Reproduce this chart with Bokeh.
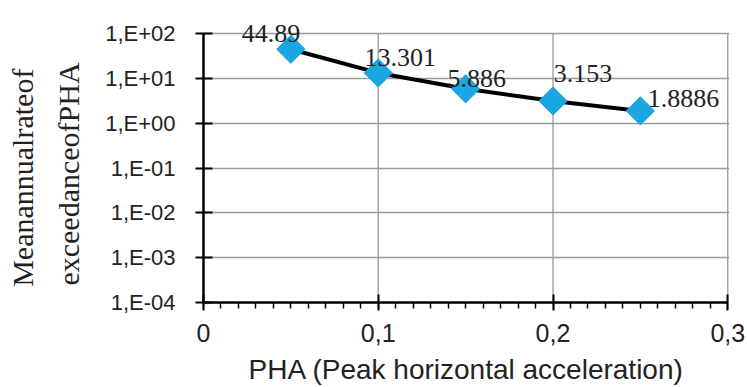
import math
from bokeh.plotting import figure
from bokeh.models import Range1d, FixedTicker, ColumnDataSource
from bokeh.core.properties import value
from bokeh.embed import file_html
from bokeh.resources import INLINE

# ---- data ----
pha = [0.05, 0.10, 0.15, 0.20, 0.25]
rate = [44.89, 13.301, 5.886, 3.153, 1.8886]
rate_labels = ["44.89", "13.301", "5.886", "3.153", "1.8886"]

y_ticks = [1e-4, 1e-3, 1e-2, 1e-1, 1e0, 1e1, 1e2]
y_tick_labels = ["1,E-04", "1,E-03", "1,E-02", "1,E-01", "1,E+00", "1,E+01", "1,E+02"]
x_ticks = [0.0, 0.1, 0.2, 0.3]
x_tick_labels = ["0", "0,1", "0,2", "0,3"]
x_minor = [i / 100 for i in range(31)]

x_title = "PHA (Peak horizontal acceleration)"
y_title_lines = ["Meanannualrateof", "exceedanceofPHA"]

# ---- style (label offsets in screen pixels, head-room above top tick) ----
label_dx = [-20, 22, 11, 30, 43]
label_dy = [-16, -15, -10, -27, -12]
top_headroom_decades = 0.74
right_pad = 0.001
NBSP = "\u00a0"
# non-breaking padding to move the rotated title down to where the original has it
y_title = (y_title_lines[0] + NBSP * 7) + "\n" + (y_title_lines[1] + NBSP * 6)

y_lo, y_hi = y_ticks[0], y_ticks[-1]
p = figure(width=747, height=387, output_backend="svg", toolbar_location=None,
           y_axis_type="log",
           x_range=Range1d(x_ticks[0], x_ticks[-1] + right_pad),
           y_range=Range1d(y_lo, y_hi * 10 ** top_headroom_decades),
           min_border_left=203, min_border_right=18,
           min_border_top=0, min_border_bottom=85)
p.outline_line_color = None
p.background_fill_color = "white"
p.border_fill_color = "white"
p.xgrid.visible = False

# axes
xa = p.xaxis[0]
xa.bounds = (x_ticks[0], x_ticks[-1])
xa.ticker = FixedTicker(ticks=x_ticks, minor_ticks=x_minor)
xa.major_label_overrides = {t: s for t, s in zip(x_ticks, x_tick_labels)}
xa.axis_line_color = "black"
xa.axis_line_width = 2.5
xa.major_tick_line_color = "black"
xa.major_tick_line_width = 2
xa.major_tick_in = 8
xa.major_tick_out = 8
xa.minor_tick_line_color = "black"
xa.minor_tick_line_width = 1.5
xa.minor_tick_in = 0
xa.minor_tick_out = 6
xa.major_label_text_font = "Liberation Sans"
xa.major_label_text_font_size = "25px"
xa.major_label_text_color = "#222222"
xa.major_label_standoff = 13
xa.axis_label = x_title
xa.axis_label_text_font = "Liberation Sans"
xa.axis_label_text_font_size = "28px"
xa.axis_label_text_font_style = "normal"
xa.axis_label_text_color = "#222222"
xa.axis_label_standoff = 9

ya = p.yaxis[0]
ya.bounds = (y_lo, y_hi)
ya.ticker = FixedTicker(ticks=y_ticks, minor_ticks=[])
ya.major_label_overrides = {t: s for t, s in zip(y_ticks, y_tick_labels)}
ya.axis_line_color = "black"
ya.axis_line_width = 2.5
ya.major_tick_line_color = "black"
ya.major_tick_line_width = 2
ya.major_tick_in = 9
ya.major_tick_out = 8
ya.minor_tick_line_color = None
ya.major_label_text_font = "Liberation Sans"
ya.major_label_text_font_size = "22px"
ya.major_label_text_color = "#222222"
ya.major_label_standoff = 20
ya.axis_label = y_title
ya.axis_label_text_font = "Liberation Serif"
ya.axis_label_text_font_size = "30px"
ya.axis_label_text_font_style = "normal"
ya.axis_label_text_color = "#222222"
ya.axis_label_text_line_height = 1.4
ya.axis_label_standoff = 17

# grid
grid_color = "#9a9a9a"
p.ygrid.ticker = FixedTicker(ticks=y_ticks)
p.ygrid.grid_line_color = grid_color
p.ygrid.grid_line_width = 1.3
p.segment(x0=x_ticks[1:], y0=y_lo, x1=x_ticks[1:], y1=y_hi,
          line_color=grid_color, line_width=1.3)

# series
p.line(pha, rate, line_color="black", line_width=4)
p.scatter(pha, rate, marker="square", angle=math.pi / 4, size=20,
          fill_color="#1aa6e0", line_color="#1aa6e0")

src = ColumnDataSource(dict(x=pha, y=rate, t=rate_labels, dx=label_dx, dy=label_dy))
p.text(x="x", y="y", text="t", source=src, x_offset="dx", y_offset="dy",
       text_font=value("Liberation Serif"), text_font_size="26px",
       text_color="#222222", text_align="center", text_baseline="alphabetic")

open("out.html", "w").write(file_html(p, INLINE))
